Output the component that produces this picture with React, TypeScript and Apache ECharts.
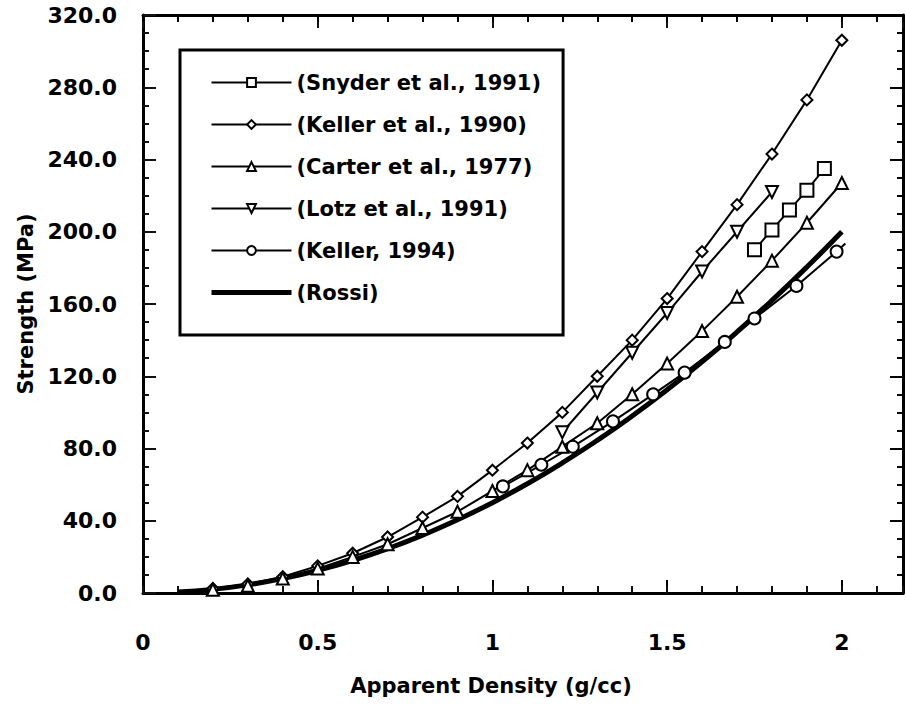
import React, { useEffect, useRef } from 'react';
import * as echarts from 'echarts';

const FONT = '"DejaVu Sans", "Liberation Sans", sans-serif';

// Series data (x = apparent density g/cc, y = strength MPa)
const snyderX = [1.75, 1.8, 1.85, 1.9, 1.95];
const snyderY = [190, 201, 212, 223, 235];

const keller90X = [0.2, 0.3, 0.4, 0.5, 0.6, 0.7, 0.8, 0.9, 1.0, 1.1, 1.2, 1.3, 1.4, 1.5, 1.6, 1.7, 1.8, 1.9, 2.0];
const keller90Y = [2.5, 5, 9, 15, 22, 31, 42, 53.5, 68, 83, 100, 120, 140, 163, 189, 215, 243, 273, 306];

const carterX = [0.2, 0.3, 0.4, 0.5, 0.6, 0.7, 0.8, 0.9, 1.0, 1.1, 1.2, 1.3, 1.4, 1.5, 1.6, 1.7, 1.8, 1.9, 2.0];
const carterY = [1.8, 4, 8, 13.5, 20, 27, 36, 45, 56.5, 68, 81, 94, 110, 127, 145, 164, 184, 205, 227];

const lotzX = [1.2, 1.3, 1.4, 1.5, 1.6, 1.7, 1.8];
const lotzY = [89, 111, 133, 155, 178, 200, 222];

const keller94X = [1.03, 1.14, 1.23, 1.345, 1.46, 1.55, 1.665, 1.75, 1.87, 1.985];
const keller94Y = [59, 71, 81, 95, 110, 122, 139, 152, 170, 189];
const keller94End: [number, number] = [2.01, 193.5];

const rossiX = [0.1, 0.2, 0.3, 0.4, 0.5, 0.6, 0.7, 0.8, 0.9, 1.0, 1.1, 1.2, 1.3, 1.4, 1.5, 1.6, 1.7, 1.8, 1.9, 2.0];
const rossiY = [0.5, 2, 4.5, 8, 12.5, 18, 24.5, 32, 40.5, 50, 60.5, 72, 84.5, 98, 112.5, 128, 144.5, 162, 180.5, 200];

const seriesNames = [
  '(Snyder et al., 1991)',
  '(Keller et al., 1990)',
  '(Carter et al., 1977)',
  '(Lotz et al., 1991)',
  '(Keller, 1994)',
  '(Rossi)',
];

const xTickLabels = ['0', '0.5', '1', '1.5', '2'];

const zip = (xs: number[], ys: number[]) => xs.map((x, i) => [x, ys[i]]);

export default function App() {
  const ref = useRef<HTMLDivElement>(null);

  useEffect(() => {
    document.body.style.margin = '0';
    const chart = echarts.init(ref.current!, null, { renderer: 'svg' });

    const X_MAX = 2.175;

    const tick = (len: number, color: string) => ({
      show: true,
      inside: true,
      length: len,
      lineStyle: { color, width: 2 },
    });

    const markerSeries = (name: string, data: any[], symbol: string, size: number) => ({
      name,
      type: 'line',
      data,
      symbol,
      symbolSize: size,
      showSymbol: true,
      lineStyle: { color: '#000', width: 2 },
      itemStyle: { color: '#fff', borderColor: '#000', borderWidth: 2 },
      z: 3,
    });

    const xAxisBase = () => ({
      type: 'value',
      min: 0,
      max: X_MAX,
      splitLine: { show: false },
      axisLine: { show: true, onZero: false, lineStyle: { color: '#000', width: 3 } },
    });

    const yAxisBase = () => ({
      type: 'value',
      min: 0,
      max: 320,
      interval: 40,
      splitLine: { show: false },
      axisLine: { show: true, onZero: false, lineStyle: { color: '#000', width: 3 } },
      minorSplitLine: { show: false },
    });

    const option: any = {
      animation: false,
      backgroundColor: '#fff',
      grid: { left: 143, right: 1, top: 15, bottom: 112, containLabel: false },
      legend: {
        orient: 'vertical',
        left: 180,
        top: 50,
        padding: [22, 22, 32, 29],
        itemWidth: 80,
        itemHeight: 11,
        itemGap: 21,
        borderColor: '#000',
        borderWidth: 3,
        backgroundColor: '#fff',
        selectedMode: false,
        data: [
          ...seriesNames.slice(0, 5),
          { name: seriesNames[5], lineStyle: { width: 5, color: '#000' } },
        ],
        textStyle: {
          fontFamily: FONT,
          fontWeight: 'bold',
          fontSize: 21,
          lineHeight: 21,
          color: '#000',
        },
      },
      xAxis: [
        {
          ...xAxisBase(),
          position: 'bottom',
          interval: 0.5,
          name: 'Apparent Density (g/cc)',
          nameLocation: 'middle',
          nameGap: 82,
          nameTextStyle: {
            fontFamily: FONT,
            fontWeight: 'bold',
            fontSize: 21,
            color: '#000',
            padding: [0, 64, 0, 0],
          },
          axisTick: tick(13, '#000'),
          axisLabel: {
            show: true,
            margin: 38,
            fontFamily: FONT,
            fontWeight: 'bold',
            fontSize: 22,
            color: '#000',
            formatter: (v: number) => {
              const k = Math.round(v * 2);
              return Math.abs(v * 2 - k) < 1e-6 && k < xTickLabels.length ? xTickLabels[k] : '';
            },
          },
        },
        {
          ...xAxisBase(),
          position: 'bottom',
          interval: 0.1,
          axisLine: { show: false, onZero: false },
          axisTick: tick(7, '#111'),
          axisLabel: { show: false },
        },
        {
          ...xAxisBase(),
          position: 'top',
          interval: 0.5,
          axisTick: tick(13, '#111'),
          axisLabel: { show: false },
        },
        {
          ...xAxisBase(),
          position: 'top',
          interval: 0.1,
          axisLine: { show: false, onZero: false },
          axisTick: tick(7, '#000'),
          axisLabel: { show: false },
        },
      ],
      yAxis: [
        {
          ...yAxisBase(),
          position: 'left',
          name: 'Strength (MPa)',
          nameLocation: 'middle',
          nameGap: 106,
          nameTextStyle: { fontFamily: FONT, fontWeight: 'bold', fontSize: 21, color: '#000' },
          axisTick: tick(13, '#111'),
          minorTick: { show: true, splitNumber: 4, length: 6, lineStyle: { color: '#111', width: 2 } },
          axisLabel: {
            show: true,
            margin: 26,
            fontFamily: FONT,
            fontWeight: 'bold',
            fontSize: 22,
            color: '#000',
            padding: [9, 0, 0, 0],
            formatter: (v: number) => v.toFixed(1),
          },
        },
        {
          ...yAxisBase(),
          position: 'right',
          axisTick: tick(13, '#000'),
          minorTick: { show: true, splitNumber: 4, length: 6, lineStyle: { color: '#000', width: 2 } },
          axisLabel: { show: false },
        },
      ],
      series: [
        {
          name: seriesNames[5],
          type: 'line',
          data: zip(rossiX, rossiY),
          symbol: 'none',
          smooth: true,
          lineStyle: { color: '#000', width: 5 },
          itemStyle: { color: 'rgba(0,0,0,0)', borderWidth: 0 },
          z: 2,
        },
        markerSeries(seriesNames[0], zip(snyderX, snyderY), 'rect', 13),
        markerSeries(seriesNames[1], zip(keller90X, keller90Y), 'diamond', 11),
        markerSeries(seriesNames[2], zip(carterX, carterY), 'triangle', 12),
        markerSeries(seriesNames[3], zip(lotzX, lotzY), 'path://M0,0 L10,0 L5,9 Z', 12),
        markerSeries(
          seriesNames[4],
          [...zip(keller94X, keller94Y), { value: keller94End, symbol: 'none' }],
          'circle',
          12
        ),
      ],
    };

    chart.setOption(option);
    return () => chart.dispose();
  }, []);

  return <div ref={ref} style={{ width: 906, height: 705, position: 'absolute', left: 0, top: 0 }} />;
}
